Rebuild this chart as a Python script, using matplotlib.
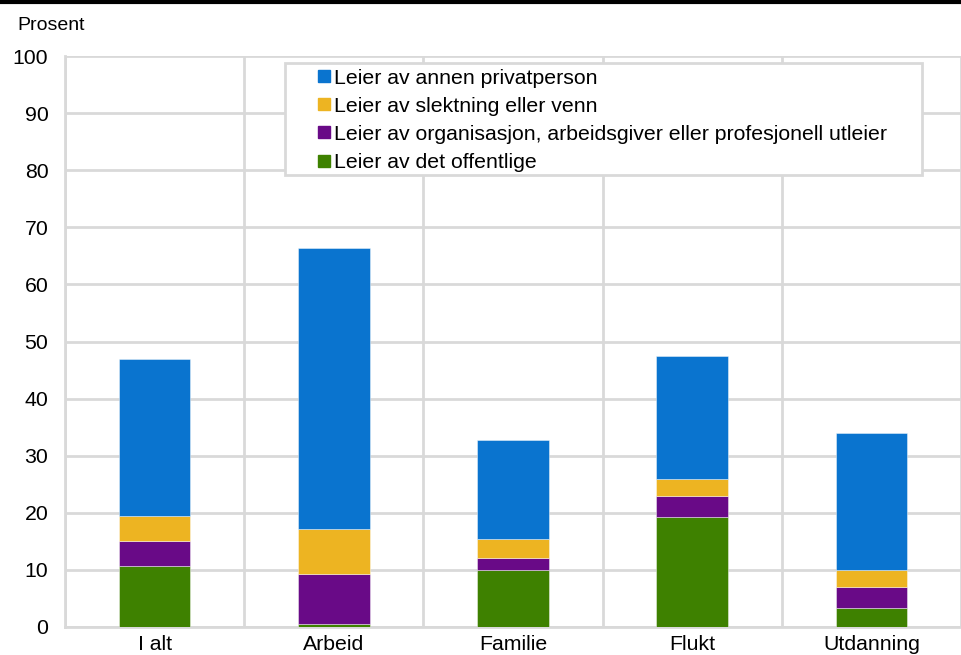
import numpy as np
import matplotlib
matplotlib.use("Agg")
from matplotlib import pyplot as plt
from matplotlib.lines import Line2D
from matplotlib.patches import Rectangle

plt.rcParams['font.family'] = ['Liberation Sans', 'DejaVu Sans']

# Data
categories = ["I alt", "Arbeid", "Familie", "Flukt", "Utdanning"]
offentlige = [10.6, 0.5, 9.9, 19.2, 3.3]
organisasjon = [4.5, 8.8, 2.1, 3.7, 3.7]
slektning = [4.4, 7.8, 3.4, 3.0, 2.9]
privatperson = [27.4, 49.3, 17.3, 21.5, 24.1]

series = [
    ("Leier av det offentlige", offentlige, "#3e8100"),
    ("Leier av organisasjon, arbeidsgiver eller profesjonell utleier", organisasjon, "#690a87"),
    ("Leier av slektning eller venn", slektning, "#edb422"),
    ("Leier av annen privatperson", privatperson, "#0a74cf"),
]

FS = 15.3

fig = plt.figure(figsize=(9.61, 6.55), dpi=100)
W, H = 961, 655
ax = fig.add_axes([65 / W, 1 - 627 / H, (W - 65) / W, (627 - 56) / H])

x = np.arange(len(categories))
bottom = np.zeros(len(categories))
for label, vals, color in series:
    ax.bar(x, vals, 0.40, bottom=bottom, color=color, label=label,
           edgecolor=(1, 1, 1, 0.5), linewidth=0.6, zorder=3)
    bottom += np.array(vals)

ax.set_ylim(0, 100)
ax.set_xlim(-0.5, 4.43)
ax.set_yticks(range(0, 101, 10))
ax.set_xticks(x)
ax.set_xticklabels(categories)
ax.set_xticks(np.arange(-0.5, 5, 1), minor=True)
ax.tick_params(axis='both', which='both', length=0, labelsize=FS, colors='black')
ax.tick_params(axis='y', pad=12)
ax.tick_params(axis='x', pad=6)

ax.grid(axis='y', which='major', color='#d9d9d9', linewidth=2, zorder=0)
ax.grid(axis='x', which='minor', color='#d9d9d9', linewidth=2, zorder=0)
ax.grid(axis='x', which='major', visible=False)
for side in ['top', 'right']:
    ax.spines[side].set_visible(False)
for side in ['left', 'bottom']:
    ax.spines[side].set_color('#d9d9d9')
    ax.spines[side].set_linewidth(2)

fig.text(17 / W, 1 - 26 / H, "Prosent", fontsize=14, va='center', ha='left')

# legend frame drawn separately (wide left padding in the reference)
frame = Rectangle(((285 - 65) / 896, (627 - 175) / 571), (922 - 285) / 896, (175 - 63) / 571,
                  transform=ax.transAxes, facecolor='white', edgecolor='#d9d9d9',
                  linewidth=2, zorder=4)
ax.add_patch(frame)

handles = []
for label, vals, color in series[::-1]:
    handles.append(Line2D([], [], marker='s', linestyle='none', markersize=8,
                          markerfacecolor=color, markeredgecolor=color, label=label))
leg = ax.legend(handles=handles, loc='upper left', bbox_to_anchor=(0.2824, 0.978),
                fontsize=FS, frameon=False, handlelength=0.55,
                handletextpad=0.2, labelspacing=0.43, borderpad=0,
                borderaxespad=0)
leg.set_zorder(5)

# black rule at the very top
fig.add_artist(Line2D([0, 1], [1 - 1.5 / H, 1 - 1.5 / H], color='black', linewidth=3,
                      transform=fig.transFigure))

fig.savefig("out.png", dpi=100)
